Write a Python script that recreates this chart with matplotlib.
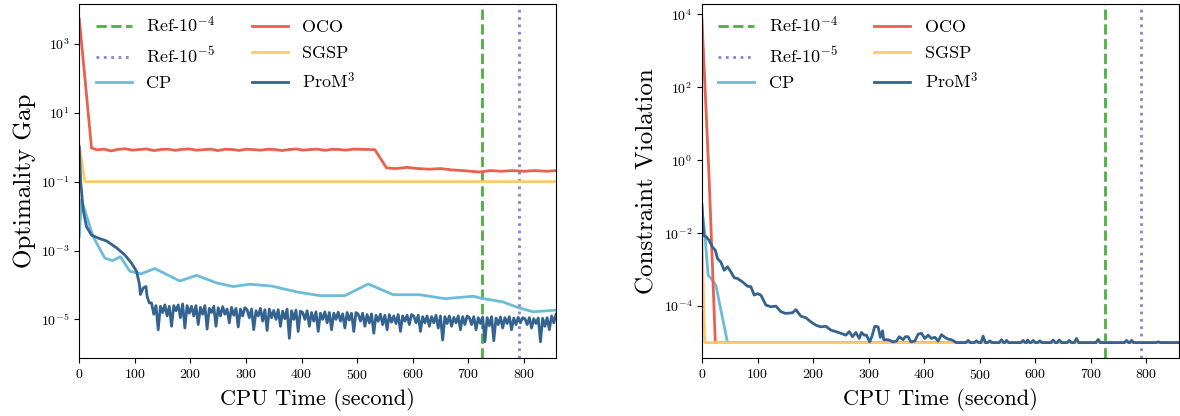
import numpy as np
import matplotlib
matplotlib.use("Agg")
import matplotlib.pyplot as plt

plt.rcParams.update({
    "font.family": "serif",
    "font.serif": ["cmr10"],
    "mathtext.fontset": "cm",
    "axes.formatter.use_mathtext": True,
})

# colours
C_REF4 = "#4cb040"
C_REF5 = "#8d80d0"
C_CP = "#6cbcd9"
C_OCO = "#e9604f"
C_SGSP = "#fdca6c"
C_PROM = "#35638f"

ref4_time = 725
ref5_time = 791

# ---------------- optimality gap (left) ----------------
oco_gap_t = [0, 22, 32, 45, 57, 70, 83, 96, 108, 121,
             134, 147, 160, 172, 185, 198, 211, 224, 237, 249,
             262, 275, 288, 301, 314, 326, 339, 352, 365, 378,
             391, 403, 416, 429, 442, 455, 468, 480, 493, 506,
             519, 532, 553, 570, 590, 610, 630, 650, 670, 690,
             705, 720, 740, 760, 780, 800, 820, 840, 860]
oco_gap = [5300, 0.95, 0.84, 0.88, 0.78, 0.87, 0.9, 0.82, 0.86, 0.89,
           0.8, 0.86, 0.88, 0.81, 0.87, 0.89, 0.82, 0.85, 0.88, 0.8,
           0.87, 0.86, 0.81, 0.88, 0.85, 0.82, 0.87, 0.86, 0.8, 0.86,
           0.89, 0.82, 0.86, 0.88, 0.81, 0.87, 0.86, 0.82, 0.88, 0.87,
           0.86, 0.85, 0.25, 0.24, 0.26, 0.24, 0.23, 0.24, 0.22, 0.21,
           0.2, 0.19, 0.21, 0.2, 0.21, 0.2, 0.21, 0.2, 0.21]

sgsp_gap_t = [0, 10, 860]
sgsp_gap = [1.1, 0.1, 0.1]

cp_gap_t = [0, 4, 25, 46, 60, 74, 91, 111, 136, 181, 211, 247, 277, 307,
            346, 391, 433, 478, 520, 565, 613, 658, 709, 724, 763, 790, 817, 858]
cp_gap = [2.5e-3, 3e-2, 2.5e-3, 6e-4, 5.1e-4, 6.6e-4, 2.5e-4, 2.1e-4, 3e-4,
          1.3e-4, 1.9e-4, 1.15e-4, 9e-5, 1.05e-4, 9.3e-5, 6.3e-5, 4.9e-5,
          4.9e-5, 1.07e-4, 5.2e-5, 5.2e-5, 4e-5, 4.7e-5, 4.1e-5, 3.2e-5,
          2.2e-5, 1.66e-5, 1.86e-5]

# ProM3: early descent, then a noisy plateau sampled every 4 s (log10 values)
prom_gap_early_t = [0, 2.5, 7, 13, 22, 34, 49, 67, 82, 94, 103, 108, 110, 115, 120, 122, 126]
prom_gap_early = [1.0, 0.1, 0.015, 4.9e-3, 2.8e-3, 2.3e-3, 1.9e-3, 1.2e-3, 7.4e-4,
                  4.3e-4, 2.5e-4, 1.1e-4, 5.3e-5, 8.2e-5, 9e-5, 4.7e-5, 3e-5]
prom_gap_noisy_log = [
    -4.52, -4.85, -4.6, -5.3, -4.62, -4.8, -4.58, -4.9, -4.62, -5.2, -4.6, -4.75, -4.58, -4.95, -4.55, -5.25, -4.6, -4.82,
    -4.62, -4.9, -4.6, -5.15, -4.65, -4.85, -4.6, -5.28, -4.68, -4.8, -4.62, -5.2, -4.66, -4.9, -4.63, -4.85, -4.7, -5.1, -4.65, -4.88, -4.68, -5.22, -4.7, -4.9, -4.66,
    -4.72, -4.95, -4.7, -5.3, -4.75, -4.9, -4.68, -5.05, -4.72, -5.32, -4.7, -4.95, -4.74, -5.0, -4.72, -5.2, -4.76, -4.98, -4.7, -5.55, -4.75, -5.0, -4.73, -5.35, -4.76,
    -4.8, -5.0, -4.75, -5.2, -4.8, -5.05, -4.78, -5.35, -4.82, -5.0, -4.78, -5.1, -4.8, -5.3, -4.82, -5.0, -4.79, -5.05, -4.84, -5.25, -4.8, -5.02, -4.82, -5.35, -4.8,
    -4.85, -5.05, -4.82, -5.2, -4.86, -5.1, -4.84, -5.4, -4.88, -5.05, -4.85, -5.15, -4.88, -5.3, -4.86, -5.08, -4.9, -5.12, -4.86, -5.35, -4.9, -5.05, -4.88, -5.15, -4.86,
    -4.9, -5.1, -4.88, -5.35, -4.92, -5.1, -4.9, -5.2, -4.92, -5.1, -4.88, -5.25, -4.9, -5.6, -4.92, -5.12, -4.9, -5.2, -4.94, -5.1, -4.9, -5.3, -4.92, -5.15, -4.9,
    -4.95, -5.15, -4.92, -5.3, -4.95, -5.12, -4.93, -5.65, -4.95, -5.18, -4.92, -5.62, -4.96, -5.15, -4.93, -5.25, -4.95, -5.12, -4.92, -5.3, -4.96, -5.15, -4.94, -5.1, -4.95,
    -4.98, -5.15, -4.95, -5.25, -4.98, -5.12, -4.96, -5.65, -4.97, -5.2, -4.95, -5.3, -4.9, -5.1, -4.85,
]
prom_gap_noisy_t = np.arange(130, 859, 4)

# ---------------- constraint violation (right) ----------------
oco_cv_t = [0, 13, 24, 858]
oco_cv = [7e3, 0.28, 1e-5, 1e-5]

sgsp_cv_t = [0, 5, 858]
sgsp_cv = [9e-3, 1e-5, 1e-5]

cp_cv_t = [0, 5, 11, 17, 25, 46, 858]
cp_cv = [0.045, 1e-2, 7e-4, 5.6e-4, 3.7e-4, 1e-5, 1e-5]

prom_cv_t = [0, 3, 8, 13, 19, 24, 28, 34, 40, 46, 52, 58, 64, 73, 82, 88, 94, 100, 106, 115,
             124, 133, 142, 151, 163, 169, 178, 187, 196, 205, 214, 223, 232, 241, 250, 259,
             265, 271, 277, 283, 287, 292, 296, 302, 306, 311, 317, 321, 325, 327, 335, 344,
             350, 355, 362, 366, 371, 376, 383, 389, 395, 401, 407, 413, 419, 425, 431, 437,
             443, 449, 458, 475, 479, 483, 490, 494, 498, 502, 506, 510, 514, 518, 522, 535,
             539, 543, 545, 548, 552, 574, 578, 582, 584, 586, 590, 592, 596, 600, 604, 608,
             612, 628, 632, 636, 639, 643, 647, 657, 661, 665, 670, 674, 678, 709, 713, 717,
             760, 764, 768, 770, 773, 777, 817, 821, 825, 858]
prom_cv = [0.06, 8.7e-3, 7.8e-3, 6.3e-3, 4.1e-3, 3.4e-3, 2e-3, 1.6e-3, 9.6e-4, 1.2e-3,
           8.7e-4, 6e-4, 5.7e-4, 4.6e-4, 3.5e-4, 3.4e-4, 2e-4, 2.2e-4, 2e-4, 1.07e-4,
           9.6e-5, 1e-4, 7e-5, 6.3e-5, 6.6e-5, 8e-5, 5.3e-5, 4.8e-5, 3.7e-5, 3e-5,
           2.7e-5, 2.8e-5, 2.2e-5, 2e-5, 1.8e-5, 1.6e-5, 2e-5, 1.45e-5, 1.9e-5, 1.3e-5,
           1.9e-5, 1.6e-5, 1.6e-5, 1.05e-5, 1.5e-5, 2.8e-5, 2.7e-5, 1.4e-5, 2.1e-5, 1.2e-5,
           1.2e-5, 1.05e-5, 1.1e-5, 1.45e-5, 1.2e-5, 1.45e-5, 1.45e-5, 1.05e-5, 1.1e-5, 1.7e-5,
           1.8e-5, 1.3e-5, 1.6e-5, 1.3e-5, 1.4e-5, 1.1e-5, 1.65e-5, 1.4e-5, 1.25e-5, 1.2e-5,
           1e-5, 1e-5, 1.15e-5, 1e-5, 1e-5, 1.12e-5, 1e-5, 1e-5, 1.5e-5, 1e-5,
           1e-5, 1.12e-5, 1e-5, 1e-5, 1.2e-5, 1e-5, 1e-5, 1.15e-5, 1e-5, 1e-5,
           1.15e-5, 1e-5, 1e-5, 1.18e-5, 1e-5, 1e-5, 1.15e-5, 1e-5, 1e-5, 1.12e-5,
           1e-5, 1e-5, 1.18e-5, 1e-5, 1e-5, 1.18e-5, 1e-5, 1e-5, 1.15e-5, 1e-5,
           1e-5, 1.3e-5, 1e-5, 1e-5, 1.22e-5, 1e-5, 1e-5, 1.15e-5, 1e-5, 1e-5,
           1.15e-5, 1e-5, 1e-5, 1.05e-5, 1e-5, 1e-5]

prom_gap_t = np.concatenate([prom_gap_early_t, prom_gap_noisy_t])
prom_gap = np.concatenate([prom_gap_early, 10.0 ** np.array(prom_gap_noisy_log)])

fig = plt.figure(figsize=(11.8, 4.16), dpi=100)
ax1 = fig.add_axes([0.0672, 0.1387, 0.4040, 0.8517])
ax2 = fig.add_axes([0.5949, 0.1387, 0.4040, 0.8517])

LW = 2.0


def draw(ax, cp, oco, sgsp, prom):
    ax.axvline(ref4_time, color=C_REF4, ls="--", lw=LW, label="Ref-$10^{-4}$")
    ax.axvline(ref5_time, color=C_REF5, ls=":", lw=LW, label="Ref-$10^{-5}$")
    ax.plot(*cp, color=C_CP, lw=LW, label="CP")
    ax.plot(*oco, color=C_OCO, lw=LW, label="OCO")
    ax.plot(*sgsp, color=C_SGSP, lw=LW, label="SGSP")
    ax.plot(*prom, color=C_PROM, lw=LW, label="ProM$^3$")
    ax.set_yscale("log")
    ax.set_xlim(0, 858)
    ax.set_xticks(range(0, 900, 100))
    ax.yaxis.set_minor_locator(matplotlib.ticker.NullLocator())
    ax.tick_params(labelsize=10)
    ax.set_xlabel("CPU Time (second)", fontsize=16)
    ax.legend(loc="upper left", bbox_to_anchor=(0.019, 0.99), borderaxespad=0,
              ncol=2, frameon=False, fontsize=13, labelspacing=0.55)


draw(ax1, (cp_gap_t, cp_gap), (oco_gap_t, oco_gap), (sgsp_gap_t, sgsp_gap), (prom_gap_t, prom_gap))
ax1.set_ylim(10 ** -6.13, 10 ** 4.16)
ax1.set_yticks([1e3, 1e1, 1e-1, 1e-3, 1e-5])
ax1.set_ylabel("Optimality Gap", fontsize=18)

draw(ax2, (cp_cv_t, cp_cv), (oco_cv_t, oco_cv), (sgsp_cv_t, sgsp_cv), (prom_cv_t, prom_cv))
ax2.set_ylim(10 ** -5.43, 10 ** 4.28)
ax2.set_yticks([1e4, 1e2, 1e0, 1e-2, 1e-4])
ax2.set_ylabel("Constraint Violation", fontsize=18)

fig.savefig("out.png", dpi=100)
